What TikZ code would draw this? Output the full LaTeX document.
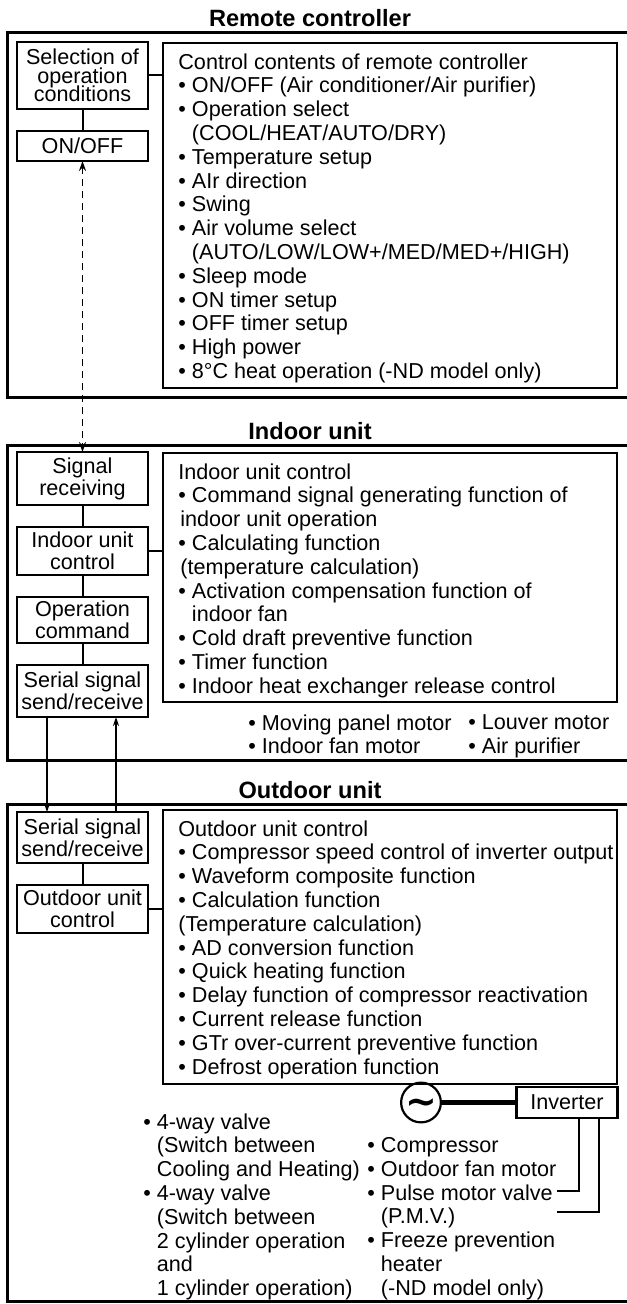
\documentclass[tikz,border=0pt]{standalone}
\usepackage{fontspec}
\setmainfont{Liberation Sans}
\newfontfamily\symfont{DejaVu Sans}
\usetikzlibrary{arrows.meta,positioning}

\newcommand{\bl}{\textbullet\ }
\newcommand{\hang}{\phantom{\textbullet\ }}
\newcommand{\tightlines}{\lineskiplimit=-5pt\relax}

\begin{document}
\begin{tikzpicture}[x=0.5pt, y=-0.5pt,
  frame/.style={draw, line width=1.5pt, anchor=north west, minimum width=325pt, inner sep=0pt, outer sep=0pt},
  title/.style={anchor=base, font=\fontsize{11.8pt}{13pt}\selectfont\bfseries},
  unitbox/.style={draw, line width=1.4pt, align=center, minimum width=65.5pt, minimum height=24pt, inner xsep=1pt, inner ysep=1pt, outer sep=0pt, font=\fontsize{10.8pt}{11pt}\selectfont\tightlines},
  panel/.style={draw, line width=1.4pt, anchor=north west, minimum width=227pt, inner sep=0pt, outer sep=0pt},
  listtext/.style={anchor=north west, align=left, inner sep=0pt, font=\fontsize{10.8pt}{11.9pt}\selectfont},
  link/.style={line width=1pt},
  arr/.style={-{Stealth[length=4.5pt, width=3pt]}, line width=0.6pt},
  dasharr/.style={{Stealth[length=5pt, width=3.5pt]}-{Stealth[length=5pt, width=3.5pt]}, line width=0.7pt, dash pattern=on 3.5pt off 2.5pt}
]
\useasboundingbox (0,0) rectangle (626,1304);

% unit frames
\node[frame, minimum height=182.5pt] (rcframe) at (7,33) {};
\node[frame, minimum height=157.5pt] (inframe) at (7,445) {};
\node[frame, minimum height=248.5pt] (outframe) at (7,804) {};

\node[title] (rctitle) at (310,27) {Remote controller};
\node[title] (intitle) at (310,439) {Indoor unit};
\node[title] (outtitle) at (310,798) {Outdoor unit};

% remote controller
\node[unitbox, minimum height=33.5pt, anchor=north, font=\fontsize{10.8pt}{9.25pt}\selectfont\tightlines] (select) at (82.5,42) {Selection of\\operation\\conditions};
\node[unitbox, minimum height=15pt, below=11pt of select] (onoff) {ON/OFF};
\node[panel, minimum height=172.5pt] (rcbox) at (163,43) {};
\node[listtext] (rclist) at ([shift={(7.5pt,-5pt)}]rcbox.north west) {Control contents of remote controller\\
\bl ON/OFF (Air conditioner/Air purifier)\\
\bl Operation select\\
\hang(COOL/HEAT/AUTO/DRY)\\
\bl Temperature setup\\
\bl AIr direction\\
\bl Swing\\
\bl Air volume select\\
\hang(AUTO/LOW/LOW+/MED/MED+/HIGH)\\
\bl Sleep mode\\
\bl ON timer setup\\
\bl OFF timer setup\\
\bl High power\\
\bl 8°C heat operation (-ND model only)};

\draw[link] (select) -- (onoff);
\draw[link] (select.east) -- (select.east -| rcbox.west);

% indoor unit
\node[unitbox, minimum height=26.5pt, anchor=north] (sigrx) at (82.5,452) {Signal\\receiving};
\node[unitbox, below=11pt of sigrx] (inctl) {Indoor unit\\control};
\node[unitbox, minimum height=23pt, below=11pt of inctl] (opcmd) {Operation\\command};
\node[unitbox, minimum height=26pt, below=11pt of opcmd] (inser) {Serial signal\\send/receive};
\node[panel, minimum height=124.5pt] (inbox) at (163,453) {};
\node[listtext] (inlist) at ([shift={(7.5pt,-5pt)}]inbox.north west) {Indoor unit control\\
\bl Command signal generating function of\\
\hspace*{1pt}indoor unit operation\\
\bl Calculating function\\
\hspace*{1pt}(temperature calculation)\\
\bl Activation compensation function of\\
\hang indoor fan\\
\bl Cold draft preventive function\\
\bl Timer function\\
\bl Indoor heat exchanger release control};
\node[listtext] (inloada) at (248,714) {\bl Moving panel motor\\ \bl Indoor fan motor};
\node[listtext] (inloadb) at (468,714) {\bl Louver motor\\ \bl Air purifier};

\draw[link] (sigrx) -- (inctl);
\draw[link] (inctl) -- (opcmd);
\draw[link] (opcmd) -- (inser);
\draw[link] (inctl.east) -- (inctl.east -| inbox.west);

% outdoor unit
\node[unitbox, minimum height=25.5pt, anchor=north] (outser) at (82.5,812) {Serial signal\\send/receive};
\node[unitbox, below=11pt of outser] (outctl) {Outdoor unit\\control};
\node[panel, minimum height=137pt] (outbox) at (163,810) {};
\node[listtext] (outlist) at ([shift={(7.5pt,-5pt)}]outbox.north west) {Outdoor unit control\\
\bl Compressor speed control of inverter output\\
\bl Waveform composite function\\
\bl Calculation function\\
(Temperature calculation)\\
\bl AD conversion function\\
\bl Quick heating function\\
\bl Delay function of compressor reactivation\\
\bl Current release function\\
\bl GTr over-current preventive function\\
\bl Defrost operation function};

\draw[link] (outser) -- (outctl);
\draw[link] (outctl.east) -- (outctl.east -| outbox.west);

\node[unitbox, minimum width=50.5pt, minimum height=15.5pt, anchor=north east] (inv) at (617.5,1087) {Inverter};
\node[circle, draw, line width=1.1pt, minimum size=17pt, inner sep=0pt, text height=12pt, text depth=0pt, font=\symfont\bfseries\fontsize{19pt}{19pt}\selectfont] (ac) at (421,1102.5) {∼};
\draw[line width=2.2pt] (ac) -- (inv);

\node[listtext] (outloada) at (143,1113) {\bl 4-way valve\\
\hang(Switch between\\
\hang Cooling and Heating)\\
\bl 4-way valve\\
\hang(Switch between\\
\hang 2 cylinder operation\\
\hang and\\
\hang 1 cylinder operation)};
\node[listtext] (outloadb) at (367,1137) {\bl Compressor\\
\bl Outdoor fan motor\\
\bl Pulse motor valve\\
\hang(P.M.V.)\\
\bl Freeze prevention\\
\hang heater\\
\hang(-ND model only)};

\coordinate (pmvA) at (557,1191);
\coordinate (pmvB) at (557,1212);
\draw[link] ([xshift=5.75pt]inv.south) |- (pmvA);
\draw[link] ([xshift=15.75pt]inv.south) |- (pmvB);

% signal paths
\draw[dasharr] (onoff.south) -- (sigrx.north);
\draw[arr] ([xshift=-17.75pt]inser.south) -- ([xshift=-17.75pt]outser.north);
\draw[arr] ([xshift=16.75pt]outser.north) -- ([xshift=16.75pt]inser.south);

\end{tikzpicture}
\end{document}
